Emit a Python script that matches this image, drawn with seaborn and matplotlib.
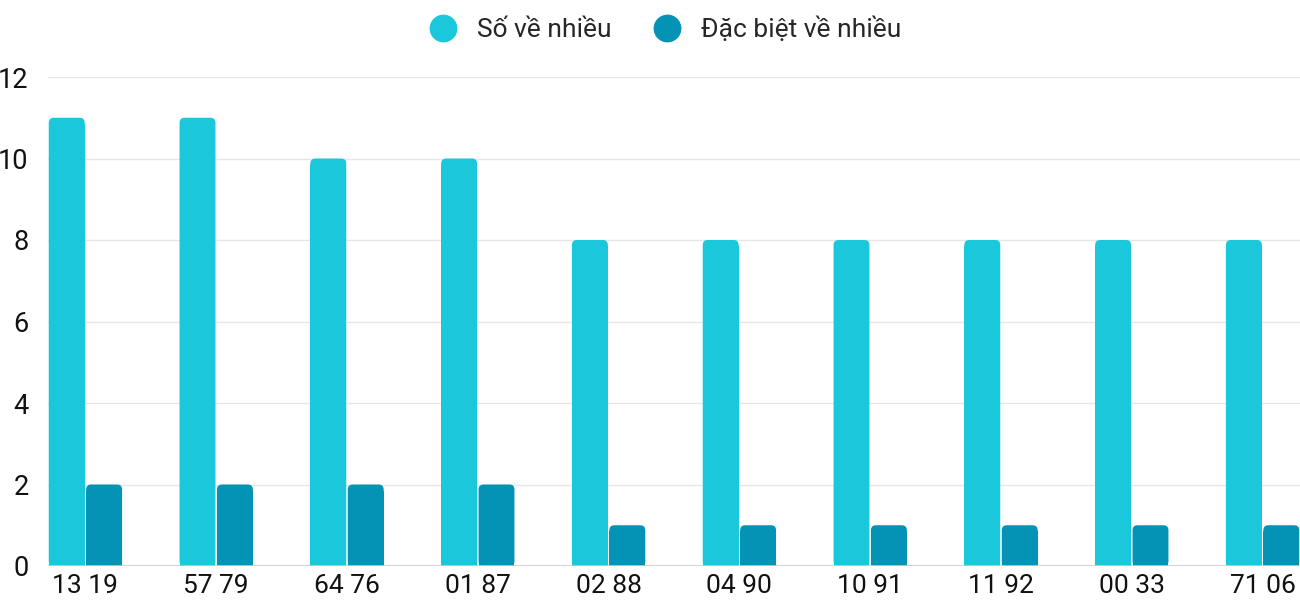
import matplotlib
matplotlib.use("Agg")
import matplotlib.pyplot as plt
import seaborn as sns
import pandas as pd
from matplotlib.patches import FancyBboxPatch, Rectangle
from matplotlib.lines import Line2D

# data
categories = ["13 19", "57 79", "64 76", "01 87", "02 88",
              "04 90", "10 91", "11 92", "00 33", "71 06"]
so_ve_nhieu = [11, 11, 10, 10, 8, 8, 8, 8, 8, 8]
dac_biet_ve_nhieu = [2, 2, 2, 2, 1, 1, 1, 1, 1, 1]
series_names = ["Số về nhiều", "Đặc biệt về nhiều"]
colors = ["#1BC8DB", "#0493B5"]

df = pd.DataFrame({
    "cat": categories * 2,
    "value": so_ve_nhieu + dac_biet_ve_nhieu,
    "series": [series_names[0]] * len(categories) + [series_names[1]] * len(categories),
})

sns.set_style("white")
plt.rcParams["font.family"] = ["Roboto", "DejaVu Sans"]

fig = plt.figure(figsize=(13, 6), dpi=100)
ax = fig.add_axes([48 / 1300, 34 / 600, 1 - 48 / 1300, (566 - 77) / 600])

sns.barplot(data=df, x="cat", y="value", hue="series", palette=colors,
            width=0.572, gap=0.04, legend=False, ax=ax, saturation=1)

ax.set_ylim(0, 12)
ax.set_xlim(-0.286, len(categories) - 1 + 0.286)

# rounded tops on the bars
x_per_px = (len(categories) - 1 + 0.572) / 1252
y_per_px = 12 / 489
r = 5 * x_per_px
aspect = y_per_px / x_per_px
old = list(ax.patches)
for p in old:
    x, y = p.get_x(), p.get_y()
    w, h = p.get_width(), p.get_height()
    fc = p.get_facecolor()
    p.remove()
    ax.add_patch(FancyBboxPatch((x, y), w, h,
                                boxstyle=f"round,pad=0,rounding_size={r}",
                                mutation_aspect=aspect, fc=fc, ec="none", zorder=3))
    ax.add_patch(Rectangle((x, y), w, h - 6 * y_per_px, fc=fc, ec="none", zorder=3))

ax.set_yticks(range(0, 13, 2))
ax.grid(axis="y", color="#e6e6e6", linewidth=1, zorder=0)
ax.grid(axis="x", visible=False)
ax.axhline(0, color="#cccccc", linewidth=1.2, zorder=4)
sns.despine(ax=ax, left=True, bottom=True, top=True, right=True)
ax.tick_params(axis="y", length=0, pad=14, labelsize=19.5, labelcolor="#111111")
ax.tick_params(axis="x", length=0, pad=6, labelsize=19, labelcolor="#111111")
ax.set_xlabel("")
ax.set_ylabel("")

handles = [Line2D([0], [0], marker="o", linestyle="none", markersize=19,
                  markerfacecolor=c, markeredgecolor=c) for c in colors]
fig.legend(handles, series_names, loc="center", bbox_to_anchor=(0.507, 0.951),
           ncol=2, frameon=False, fontsize=19, handletextpad=0.3,
           columnspacing=1.1)

fig.savefig("out.png", dpi=100)
